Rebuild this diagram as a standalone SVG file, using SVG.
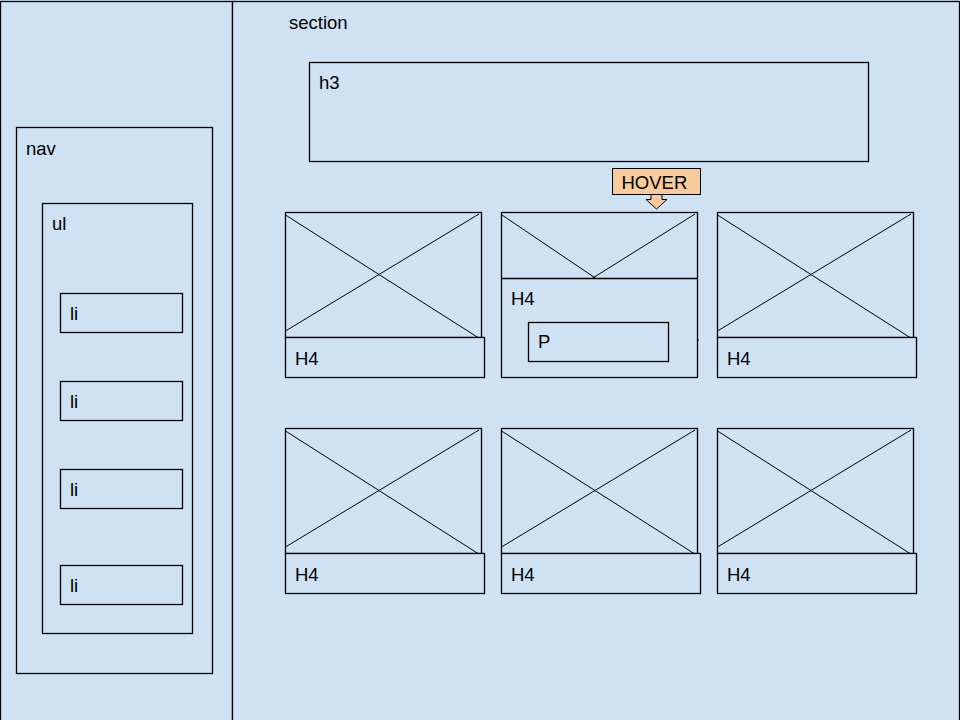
<svg xmlns="http://www.w3.org/2000/svg" width="960" height="720" viewBox="0 0 960 720">
<style>
.b{fill:#cfe2f3;stroke:#000;stroke-width:1.3}
.n{fill:none;stroke:#000;stroke-width:1.3}
.l{stroke:#000;stroke-width:1}
text{font-family:"Liberation Sans",Arial,sans-serif;font-size:18.5px;fill:#000}
</style>
<rect width="960" height="720" fill="#cfe2f3"/>
<g id="leftpanel"><rect class="b" x="0.5" y="1.5" width="232" height="730"/></g>
<g id="section"><rect class="b" x="232.5" y="1.5" width="727" height="730"/><text x="289" y="28.5">section</text></g>
<g id="nav"><rect class="b" x="16.5" y="127.5" width="196" height="546"/><text x="26" y="155">nav</text></g>
<g id="ul"><rect class="b" x="42.5" y="203.5" width="150" height="430"/><text x="52" y="230">ul</text></g>
<g id="li1"><rect class="b" x="60.5" y="293.5" width="122" height="39"/><text x="70" y="320">li</text></g>
<g id="li2"><rect class="b" x="60.5" y="381.5" width="122" height="39"/><text x="70" y="408">li</text></g>
<g id="li3"><rect class="b" x="60.5" y="469.5" width="122" height="39"/><text x="70" y="496">li</text></g>
<g id="li4"><rect class="b" x="60.5" y="565.5" width="122" height="39"/><text x="70" y="592">li</text></g>
<g id="h3"><rect class="b" x="309.5" y="62.5" width="559" height="99"/><text x="319" y="89">h3</text></g>

<g id="card1">
<rect class="b" x="285.5" y="212.5" width="196" height="125"/>
<line class="l" x1="285.5" y1="215" x2="478" y2="337.5"/>
<line class="l" x1="285.5" y1="331" x2="479" y2="214"/>
<rect class="b" x="285.5" y="337.5" width="199" height="40"/>
<text x="295" y="365">H4</text>
</g>
<g id="card2">
<rect class="b" x="501.5" y="212.5" width="196" height="165"/>
<line class="l" x1="502" y1="215" x2="596" y2="278.5"/>
<line class="l" x1="695" y1="214" x2="592" y2="278.5"/>
<line class="n" x1="501.5" y1="278.5" x2="697.5" y2="278.5"/>
<text x="511" y="305">H4</text>
<rect class="b" x="528.5" y="322.5" width="140" height="39"/>
<text x="538" y="348">P</text>
<rect x="697.5" y="339.5" width="1.2" height="1.2" fill="#000"/>
</g>
<g id="card3">
<rect class="b" x="717.5" y="212.5" width="196" height="125"/>
<line class="l" x1="717.5" y1="215" x2="910" y2="337.5"/>
<line class="l" x1="717.5" y1="331" x2="911" y2="214"/>
<rect class="b" x="717.5" y="337.5" width="199" height="40"/>
<text x="727" y="365">H4</text>
</g>
<g id="card4">
<rect class="b" x="285.5" y="428.5" width="196" height="125"/>
<line class="l" x1="285.5" y1="431" x2="478" y2="553.5"/>
<line class="l" x1="285.5" y1="547" x2="479" y2="430"/>
<rect class="b" x="285.5" y="553.5" width="199" height="40"/>
<text x="295" y="581">H4</text>
</g>
<g id="card5">
<rect class="b" x="501.5" y="428.5" width="196" height="125"/>
<line class="l" x1="501.5" y1="431" x2="694" y2="553.5"/>
<line class="l" x1="501.5" y1="547" x2="695" y2="430"/>
<rect class="b" x="501.5" y="553.5" width="199" height="40"/>
<text x="511" y="581">H4</text>
</g>
<g id="card6">
<rect class="b" x="717.5" y="428.5" width="196" height="125"/>
<line class="l" x1="717.5" y1="431" x2="910" y2="553.5"/>
<line class="l" x1="717.5" y1="547" x2="911" y2="430"/>
<rect class="b" x="717.5" y="553.5" width="199" height="40"/>
<text x="727" y="581">H4</text>
</g>

<g id="hover">
<rect x="612.5" y="168.5" width="88" height="26" fill="#f9cb9c" stroke="#000" stroke-width="1"/>
<text x="621.5" y="188.5">HOVER</text>
<polygon points="651,194.5 662,194.5 662,199.5 667,199.5 656.5,209 646,199.5 651,199.5" fill="#f9cb9c" stroke="#000" stroke-width="1"/>
</g>
<g id="connectors"></g>
</svg>
